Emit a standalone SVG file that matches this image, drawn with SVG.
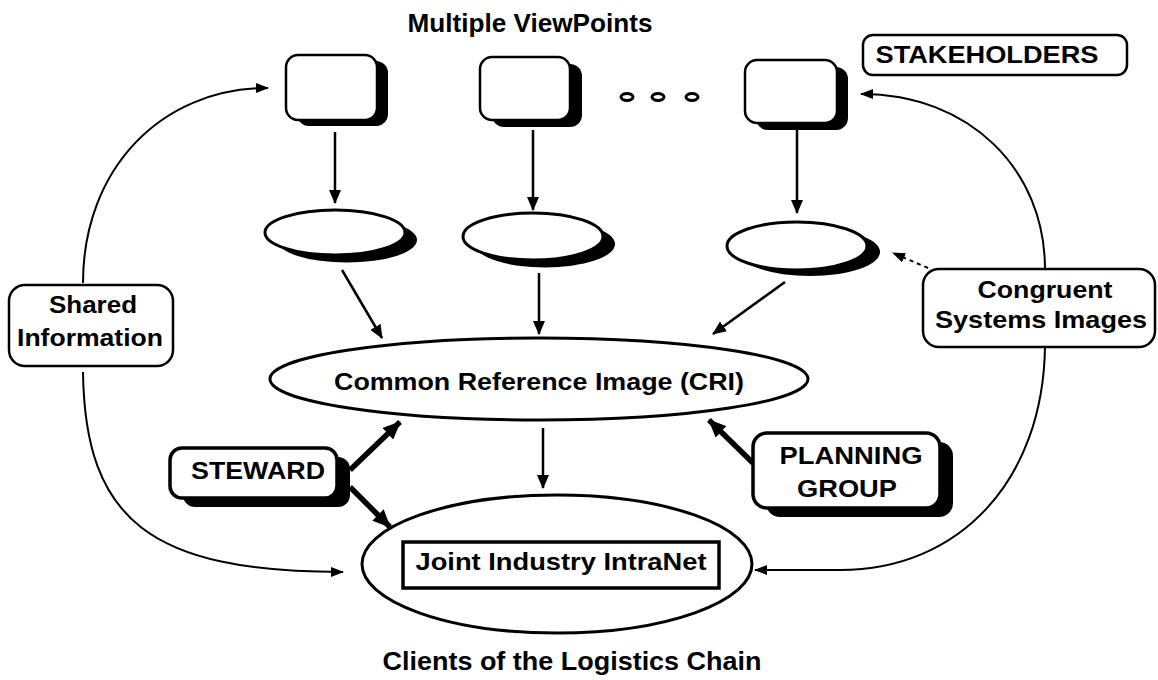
<svg xmlns="http://www.w3.org/2000/svg" width="1158" height="680" viewBox="0 0 1158 680">
<style>
  .t { font-family: "Liberation Sans", Arial, sans-serif; font-weight: bold; fill: #000; text-anchor: middle; }
  .box { fill: #fff; stroke: #000; stroke-width: 2.5; }
  .box3 { fill: #fff; stroke: #000; stroke-width: 3.5; }
  .sh { fill: #000; stroke: none; }
  .ell { fill: #fff; stroke: #000; stroke-width: 3; }
  .ar { fill: none; stroke: #000; stroke-width: 2.5; marker-end: url(#ah); }
  .thick { fill: none; stroke: #000; stroke-width: 5.5; marker-end: url(#ahb); }
  .cv { fill: none; stroke: #000; stroke-width: 2; marker-end: url(#ahs); }
  .dot { fill: none; stroke: #000; stroke-width: 2; stroke-dasharray: 4 4; marker-end: url(#ahs); }
</style>
<defs>
  <marker id="ah" viewBox="0 0 14 12" refX="13" refY="6" markerWidth="14" markerHeight="12" markerUnits="userSpaceOnUse" orient="auto">
    <path d="M0,0 L14,6 L0,12 z"/>
  </marker>
  <marker id="ahb" viewBox="0 0 18 16" refX="17" refY="8" markerWidth="18" markerHeight="16" markerUnits="userSpaceOnUse" orient="auto">
    <path d="M0,0 L18,8 L0,16 z"/>
  </marker>
  <marker id="ahs" viewBox="0 0 13 10" refX="12" refY="5" markerWidth="13" markerHeight="10" markerUnits="userSpaceOnUse" orient="auto">
    <path d="M0,0 L13,5 L0,10 z"/>
  </marker>
</defs>
<rect width="1158" height="680" fill="#fff"/>

<text id="title" class="t" x="530" y="32" font-size="25" textLength="245" lengthAdjust="spacingAndGlyphs">Multiple ViewPoints</text>
<text id="footer" class="t" x="572" y="670" font-size="25" textLength="379" lengthAdjust="spacingAndGlyphs">Clients of the Logistics Chain</text>

<g id="connectors">
  <line class="ar" x1="335" y1="132" x2="335" y2="203"/>
  <line class="ar" x1="533" y1="130" x2="533" y2="210"/>
  <line class="ar" x1="797" y1="130" x2="797" y2="213"/>
  <line class="ar" x1="342" y1="270" x2="382" y2="338"/>
  <line class="ar" x1="539" y1="273" x2="539" y2="334"/>
  <line class="ar" x1="785" y1="282" x2="713" y2="334"/>
  <line class="ar" x1="543" y1="428" x2="543" y2="488"/>
  <line class="thick" x1="350" y1="470" x2="400" y2="422"/>
  <line class="thick" x1="350" y1="487" x2="390" y2="527"/>
  <line class="thick" x1="753" y1="463" x2="709" y2="420"/>
  <path class="cv" d="M83 283 C83 170 160 88 268 88"/>
  <path class="cv" d="M83 372 C85 520 150 572 343 572"/>
  <path class="cv" d="M1045 269 C1045 170 970 94 861 94"/>
  <path class="cv" d="M1045 347 C1043 480 960 570 840 570 L755 570"/>
  <line class="dot" x1="928" y1="268" x2="893" y2="253"/>
</g>

<g id="viewpoint1">
  <rect class="sh" x="297" y="61" width="91" height="65" rx="12"/>
  <rect class="box" x="286" y="55" width="91" height="65" rx="12"/>
</g>
<g id="viewpoint2">
  <rect class="sh" x="492" y="64" width="90" height="63" rx="12"/>
  <rect class="box" x="480" y="57" width="90" height="63" rx="12"/>
</g>
<g id="viewpoint3">
  <rect class="sh" x="756" y="67" width="92" height="63" rx="12"/>
  <rect class="box" x="745" y="60" width="92" height="63" rx="12"/>
</g>
<g id="ellipsis">
  <ellipse cx="627" cy="97" rx="6" ry="3.5" fill="none" stroke="#000" stroke-width="3"/>
  <ellipse cx="658" cy="97" rx="6" ry="3.5" fill="none" stroke="#000" stroke-width="3"/>
  <ellipse cx="692" cy="97" rx="6" ry="3.5" fill="none" stroke="#000" stroke-width="3"/>
</g>

<g id="image1">
  <ellipse class="sh" cx="347" cy="240" rx="70" ry="22.5"/>
  <ellipse class="ell" cx="335" cy="232.5" rx="70" ry="22.5"/>
</g>
<g id="image2">
  <ellipse class="sh" cx="545" cy="244" rx="70" ry="23.5"/>
  <ellipse class="ell" cx="533" cy="236.5" rx="70" ry="23.5"/>
</g>
<g id="image3">
  <ellipse class="sh" cx="810" cy="252" rx="70" ry="24"/>
  <ellipse class="ell" cx="797" cy="246" rx="70" ry="24"/>
</g>

<g id="stakeholders">
  <rect class="box" x="863" y="35" width="264" height="40" rx="10"/>
  <text class="t" x="987" y="63" font-size="24" textLength="223" lengthAdjust="spacingAndGlyphs">STAKEHOLDERS</text>
</g>
<g id="shared">
  <rect class="box" x="9" y="285" width="164" height="81" rx="16"/>
  <text class="t" x="93" y="313" font-size="24" textLength="88" lengthAdjust="spacingAndGlyphs">Shared</text>
  <text class="t" x="90" y="346" font-size="24" textLength="146" lengthAdjust="spacingAndGlyphs">Information</text>
</g>
<g id="congruent">
  <rect class="box" x="923" y="269" width="232" height="78" rx="16"/>
  <text class="t" x="1045" y="298" font-size="24" textLength="135" lengthAdjust="spacingAndGlyphs">Congruent</text>
  <text class="t" x="1041" y="328" font-size="24" textLength="212" lengthAdjust="spacingAndGlyphs">Systems Images</text>
</g>

<g id="cri">
  <ellipse class="ell" cx="539" cy="379" rx="269" ry="41"/>
  <text class="t" x="539" y="390" font-size="24" textLength="410" lengthAdjust="spacingAndGlyphs">Common Reference Image (CRI)</text>
</g>

<g id="steward">
  <rect class="sh" x="183" y="457" width="167" height="50" rx="12"/>
  <rect class="box3" x="170" y="448" width="167" height="50" rx="12"/>
  <text class="t" x="258" y="479" font-size="24" textLength="134" lengthAdjust="spacingAndGlyphs">STEWARD</text>
</g>
<g id="planning">
  <rect class="sh" x="766" y="442" width="187" height="75" rx="14"/>
  <rect class="box3" x="753" y="433" width="187" height="75" rx="14"/>
  <text class="t" x="851" y="464" font-size="24" textLength="143" lengthAdjust="spacingAndGlyphs">PLANNING</text>
  <text class="t" x="847" y="497" font-size="24" textLength="100" lengthAdjust="spacingAndGlyphs">GROUP</text>
</g>

<g id="jii">
  <ellipse class="ell" cx="557" cy="564" rx="195" ry="69"/>
  <rect x="403" y="542" width="316" height="46" fill="#fff" stroke="#000" stroke-width="3.5"/>
  <text class="t" x="561" y="570" font-size="24" textLength="291" lengthAdjust="spacingAndGlyphs">Joint Industry IntraNet</text>
</g>
</svg>
